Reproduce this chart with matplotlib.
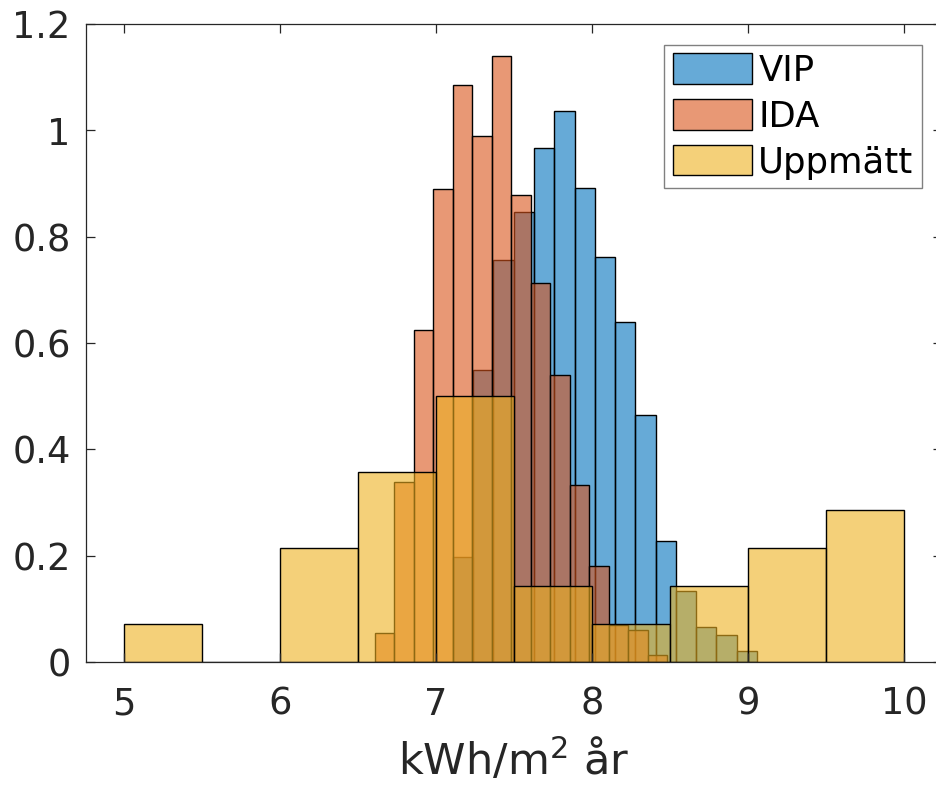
import numpy as np
import matplotlib
matplotlib.use("Agg")
import matplotlib.pyplot as plt
from matplotlib.patches import Patch

# Probability-density histograms of annual energy use (kWh/m² år)
series_names = ["VIP", "IDA", "Uppmätt"]

# VIP: bin width 0.13 starting at 7.108
vip_bin_start = 7.108
vip_bin_width = 0.13
vip_density = [0.197, 0.549, 0.756, 0.846, 0.967, 1.036, 0.891, 0.762,
               0.639, 0.464, 0.227, 0.134, 0.066, 0.051, 0.021]

# IDA: bin width 0.125 starting at 6.607
ida_bin_start = 6.607
ida_bin_width = 0.125
ida_density = [0.054, 0.339, 0.624, 0.890, 1.085, 0.989, 1.140, 0.878,
               0.713, 0.540, 0.333, 0.180, 0.070, 0.061, 0.014]

# Uppmätt (measured): bin width 0.5 from 5.0 to 10.0, 28 buildings
upp_bin_start = 5.0
upp_bin_width = 0.5
upp_density = [1/14, 0, 3/14, 5/14, 7/14, 2/14, 1/14, 2/14, 3/14, 4/14]

x_ticks = [5, 6, 7, 8, 9, 10]
y_ticks = [0, 0.2, 0.4, 0.6, 0.8, 1.0, 1.2]
y_ticklabels = ["0", "0.2", "0.4", "0.6", "0.8", "1", "1.2"]

colors = [(0.0, 0.447, 0.741), (0.850, 0.325, 0.098), (0.929, 0.694, 0.125)]
face_alpha = 0.6

plt.rcParams['font.family'] = ['DejaVu Sans']

fig = plt.figure(figsize=(9.36, 7.85), dpi=100)
ax = fig.add_axes([86/936, 123/785, (942-86)/936, (662-24)/785])

hist_specs = [
    (vip_bin_start, vip_bin_width, vip_density),
    (ida_bin_start, ida_bin_width, ida_density),
    (upp_bin_start, upp_bin_width, upp_density),
]

handles = []
for (start, width, dens), col, name in zip(hist_specs, colors, series_names):
    dens = np.asarray(dens, dtype=float)
    edges = start + width * np.arange(len(dens) + 1)
    face = (*col, face_alpha)
    ax.bar(edges[:-1], dens, width=np.diff(edges), align='edge',
           facecolor=face, edgecolor='black', linewidth=1.0)
    handles.append(Patch(facecolor=face, edgecolor='black', linewidth=1.0, label=name))

ax.set_xlim(4.756, 10.244)
ax.set_ylim(0, 1.2)
ax.set_xticks(x_ticks)
ax.set_xticklabels([str(t) for t in x_ticks])
ax.set_yticks(y_ticks)
ax.set_yticklabels(y_ticklabels)

spine_col = (0.15, 0.15, 0.15)
for s in ax.spines.values():
    s.set_color(spine_col)
    s.set_linewidth(0.9)
ax.tick_params(axis='both', direction='in', length=6.5, width=0.9, color=spine_col,
               labelsize=26.5, labelcolor=spine_col, top=True, right=True)
ax.tick_params(axis='y', pad=11)
ax.tick_params(axis='x', pad=17)

ax.set_xlabel("kWh/m$^2$ år", fontsize=31, color=spine_col, labelpad=10.5)

leg = ax.legend(handles=handles, loc='upper right',
                bbox_to_anchor=(922/936, 1 - 45/785), bbox_transform=fig.transFigure,
                borderaxespad=0, fontsize=25.5, frameon=True, fancybox=False,
                framealpha=1, edgecolor=(0.5, 0.5, 0.5), handlelength=2.25,
                handleheight=0.93, handletextpad=0.17, labelspacing=0.33,
                borderpad=0.24)
leg.get_frame().set_linewidth(1.0)

fig.savefig("out.png", dpi=100)
